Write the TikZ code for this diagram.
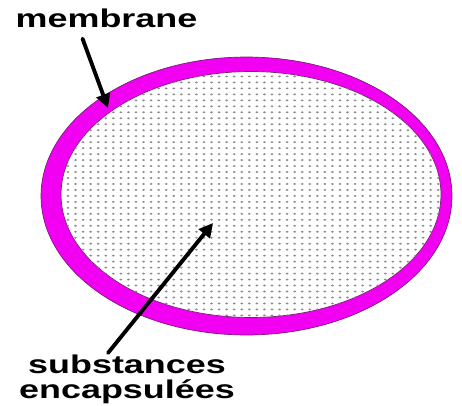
\documentclass[tikz,border=0pt]{standalone}
\usepackage{fontspec}
\newfontfamily\lblfont[FakeStretch=1.4]{Liberation Sans}
\usetikzlibrary{arrows.meta,patterns}
\definecolor{ringmag}{HTML}{F200F2}
\definecolor{ringedge}{HTML}{7A1A7A}
\definecolor{dotgray}{HTML}{8C8C8C}
\pgfdeclarepatternformonly{encdots}{\pgfqpoint{-1pt}{-1pt}}{\pgfqpoint{1pt}{1pt}}{\pgfqpoint{4.3pt}{3.4pt}}{%
  \pgfpathellipse{\pgfpointorigin}{\pgfqpoint{0.85pt}{0pt}}{\pgfqpoint{0pt}{0.6pt}}\pgfusepath{fill}}

\begin{document}
\begin{tikzpicture}[x=0.02cm,y=-0.02cm,
                    label/.style={font=\lblfont\bfseries\fontsize{14.6pt}{13.7pt}\selectfont,inner sep=0pt,align=center},
                    pointer/.style={-{Triangle[length=0.28cm,width=0.28cm]},line width=2.2pt,line cap=round}]
  \useasboundingbox (0,0) rectangle (462,405);
  % membrane ring
  \fill[ringmag,draw=ringedge,line width=0.4pt] (246.5,196) ellipse [x radius=4.11cm,y radius=2.78cm];
  \fill[white,draw=ringedge,line width=0.4pt] (251,194.5) ellipse [x radius=3.8cm,y radius=2.46cm];
  \fill[pattern=encdots,pattern color=dotgray] (251,194.5) ellipse [x radius=3.8cm,y radius=2.46cm];

  \node[label,anchor=base] (membrane) at (106.5,28) {membrane};
  \node[label,anchor=north] (substances) at (127,355) {substances\\encapsul\'ees};
  \coordinate (membpt) at (108,108);
  \coordinate (substpt) at (213,223);

  \draw[pointer] ([xshift=-0.48cm,yshift=-0.2cm]membrane.south) -- (membpt);
  \draw[pointer] ([xshift=-0.38cm,yshift=0.04cm]substances.north) -- (substpt);
\end{tikzpicture}
\end{document}
